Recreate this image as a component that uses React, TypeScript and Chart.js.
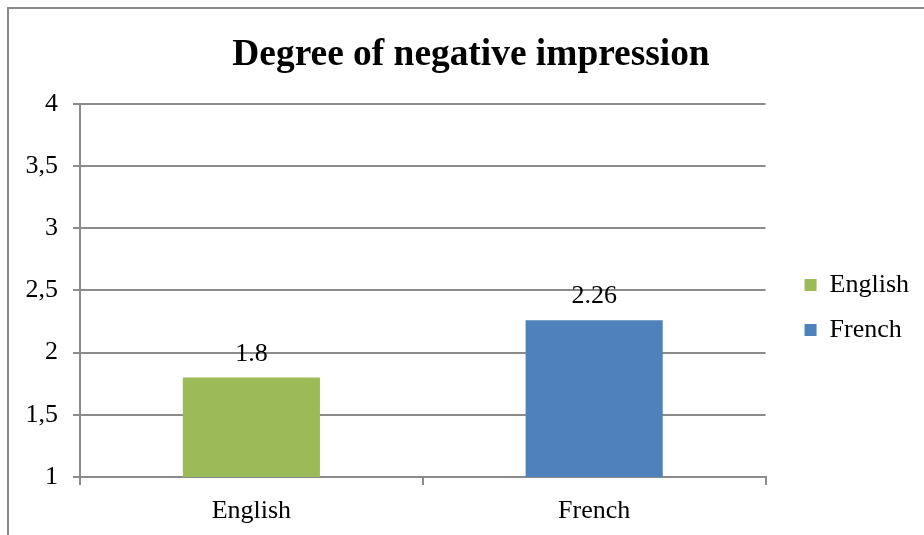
import React, { useEffect, useRef } from "react";
import { Chart, registerables } from "chart.js";

Chart.register(...registerables);

const TITLE = "Degree of negative impression";
const categories = ["English", "French"];
const values = [1.8, 2.26];
const valueLabels = ["1.8", "2.26"];
const barColors = ["#9BBB59", "#4F81BD"];
const yTickValues = [1, 1.5, 2, 2.5, 3, 3.5, 4];

const FONT = "'Liberation Serif', 'Times New Roman', serif";
const GRID = "#8b8b8b";

const valueLabelPlugin = {
  id: "valueLabels",
  afterDatasetsDraw(chart: any) {
    const ctx = chart.ctx;
    const meta = chart.getDatasetMeta(0);
    ctx.save();
    ctx.font = `26px ${FONT}`;
    ctx.fillStyle = "#000";
    ctx.textAlign = "center";
    ctx.textBaseline = "alphabetic";
    meta.data.forEach((bar: any, i: number) => {
      ctx.fillText(valueLabels[i], bar.x, bar.y - 17);
    });
    ctx.restore();
  },
};

export default function App() {
  const ref = useRef<HTMLCanvasElement | null>(null);

  useEffect(() => {
    if (!ref.current) return;
    const chart = new Chart(ref.current, {
      type: "bar",
      data: {
        labels: categories,
        datasets: [
          {
            label: TITLE,
            data: values,
            backgroundColor: barColors,
            borderWidth: 0,
            barPercentage: 0.5,
            categoryPercentage: 0.8,
          },
        ],
      },
      options: {
        animation: false,
        responsive: false,
        maintainAspectRatio: false,
        layout: { padding: { left: 23, right: 5, top: 0, bottom: 0 } },
        plugins: {
          tooltip: { enabled: false },
          title: {
            display: true,
            text: TITLE,
            color: "#000",
            font: { family: FONT, size: 37.4, weight: "bold", lineHeight: 1.2 },
            padding: { top: 33, bottom: 26.1 },
          },
          legend: {
            display: true,
            position: "right",
            align: "center",
            title: {
              display: true,
              text: " ",
              font: { size: 10, lineHeight: 1 },
              padding: { top: 35, bottom: 35 },
            },
            labels: {
              color: "#000",
              font: { family: FONT, size: 26 },
              boxWidth: 12,
              boxHeight: 12,
              padding: 19,
              generateLabels: () =>
                categories.map((c, i) => ({
                  text: c,
                  fillStyle: barColors[i],
                  strokeStyle: barColors[i],
                  lineWidth: 0,
                  hidden: false,
                  index: i,
                  fontColor: "#000",
                })),
            },
          },
        },
        scales: {
          x: {
            type: "category",
            offset: true,
            grid: {
              display: true,
              offset: true,
              drawOnChartArea: false,
              drawTicks: true,
              tickLength: 8,
              color: GRID,
              lineWidth: 2,
            },
            border: { display: true, color: GRID, width: 2 },
            ticks: { color: "#000", font: { family: FONT, size: 26 }, padding: 11 },
            afterFit: (s: any) => {
              s.height = 58;
            },
          },
          y: {
            min: 1,
            max: 4,
            grid: { color: GRID, lineWidth: 2, drawTicks: true, tickLength: 7 },
            border: { display: true, color: GRID, width: 2 },
            afterBuildTicks: (s: any) => {
              s.ticks = yTickValues.map((v) => ({ value: v }));
            },
            ticks: {
              color: "#000",
              font: { family: FONT, size: 26 },
              padding: 15,
              callback: (v: any) => String(v).replace(".", ","),
            },
            afterFit: (s: any) => {
              s.width = 57;
            },
          },
          y2: {
            position: "right",
            display: true,
            grid: { display: false, drawTicks: false },
            border: { display: false },
            ticks: { display: false },
            afterFit: (s: any) => {
              s.width = 20;
            },
          },
        },
      },
      plugins: [valueLabelPlugin],
    } as any);
    return () => chart.destroy();
  }, []);

  return (
    <div
      style={{
        position: "fixed",
        left: 0,
        top: 0,
        width: 924,
        height: 535,
        background: "#fff",
        overflow: "hidden",
      }}
    >
      <canvas ref={ref} width={924} height={535} style={{ display: "block", width: 924, height: 535 }} />
      <div
        style={{
          position: "absolute",
          left: 7,
          top: 7,
          right: -10,
          bottom: -10,
          borderTop: "2px solid #8a8a8a",
          borderLeft: "2px solid #8a8a8a",
          pointerEvents: "none",
        }}
      />
    </div>
  );
}
